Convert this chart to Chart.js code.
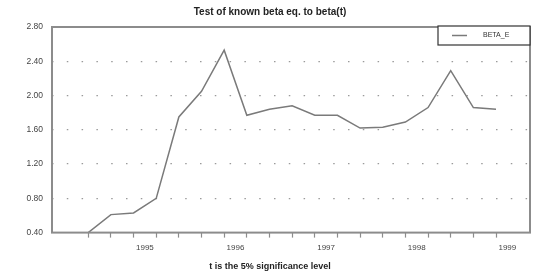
<!DOCTYPE html>
<html>
<head>
<meta charset="utf-8">
<script src="https://cdn.jsdelivr.net/npm/chart.js@4.4.0/dist/chart.umd.min.js"></script>
<style>
    html, body { margin: 0; padding: 0; background: #ffffff; }
    #wrap { width: 535px; height: 279px; }
</style>
</head>
<body>
<div id="wrap"><canvas id="beta-test"></canvas></div>
<script>
// quarterly observations, 1994Q4 .. 1999Q2
const obsLabels = ['1994Q4', '1995Q1', '1995Q2', '1995Q3', '1995Q4', '1996Q1', '1996Q2', '1996Q3', '1996Q4',
    '1997Q1', '1997Q2', '1997Q3', '1997Q4', '1998Q1', '1998Q2', '1998Q3', '1998Q4', '1999Q1', '1999Q2']
const betaValues = [0.40, 0.61, 0.63, 0.80, 1.75, 2.05, 2.53, 1.77, 1.84, 1.88,
    1.77, 1.77, 1.62, 1.63, 1.69, 1.86, 2.29, 1.86, 1.84]
const yearLabels = ['1995', '1996', '1997', '1998', '1999']
const yearPositions = [2.5, 6.5, 10.5, 14.5, 18.5]
const yTicks = [0.40, 0.80, 1.20, 1.60, 2.00, 2.40, 2.80]
const seriesLabel = 'BETA_E'

Chart.defaults.font.family = "'Liberation Sans', Arial, sans-serif"
Chart.defaults.font.size = 8
Chart.defaults.color = '#444444'

const frameColor = '#8c8c8c'

// box round the plot area plus the little legend box in the top right
const framePlugin = {
    id: 'frame',
    afterDraw(chart) {
        const { ctx, chartArea } = chart
        ctx.save()
        ctx.strokeStyle = frameColor
        ctx.lineWidth = 2
        ctx.strokeRect(chartArea.left, chartArea.top, chartArea.right - chartArea.left, chartArea.bottom - chartArea.top)

        const ds = chart.data.datasets[0]
        const bx = chartArea.right - 92, by = chartArea.top - 1, bw = 92, bh = 19
        ctx.fillStyle = '#ffffff'
        ctx.fillRect(bx, by, bw, bh)
        ctx.strokeStyle = '#333333'
        ctx.lineWidth = 1.2
        ctx.strokeRect(bx, by, bw, bh)
        ctx.strokeStyle = ds.borderColor
        ctx.lineWidth = 1.5
        ctx.beginPath()
        ctx.moveTo(bx + 14, by + bh / 2)
        ctx.lineTo(bx + 29, by + bh / 2)
        ctx.stroke()
        ctx.fillStyle = '#333333'
        ctx.font = "7px 'Liberation Sans', Arial, sans-serif"
        ctx.textBaseline = 'middle'
        ctx.fillText(ds.label, bx + 45, by + bh / 2)
        ctx.restore()
    }
}

new Chart(document.getElementById('beta-test'), {
    type: 'line',
    data: {
        datasets: [{
            label: seriesLabel,
            data: betaValues.map((v, i) => ({ x: i, y: v, q: obsLabels[i] })),
            borderColor: '#7a7a7a',
            borderWidth: 1.5,
            pointRadius: 0,
            tension: 0
        }]
    },
    options: {
        responsive: true,
        maintainAspectRatio: false,
        animation: false,
        layout: { padding: { left: 10, right: 5, top: 0, bottom: 0 } },
        plugins: {
            legend: { display: false },
            tooltip: { enabled: false },
            title: {
                display: true,
                text: 'Test of known beta eq. to beta(t)',
                color: '#222222',
                font: { size: 10, weight: 'bold' },
                padding: { top: 6, bottom: 9 }
            },
            subtitle: {
                display: true,
                position: 'bottom',
                text: 't is the 5% significance level',
                color: '#222222',
                font: { size: 9, weight: 'bold' },
                padding: { top: 4, bottom: 7 }
            }
        },
        scales: {
            x: {
                type: 'linear',
                min: -1.6,
                max: 19.5,
                afterBuildTicks(axis) {
                    const vals = obsLabels.map((q, i) => i).concat(yearPositions).sort((a, b) => a - b)
                    axis.ticks = vals.map(v => ({ value: v }))
                },
                ticks: {
                    autoSkip: false,
                    maxRotation: 0,
                    padding: 5,
                    callback(value) {
                        const k = yearPositions.indexOf(value)
                        return k >= 0 ? yearLabels[k] : ''
                    }
                },
                grid: {
                    drawOnChartArea: false,
                    tickLength: 5,
                    tickWidth: 1.2,
                    tickColor: ctx => Number.isInteger(ctx.tick.value) ? frameColor : 'rgba(0,0,0,0)'
                },
                border: { display: false }
            },
            y: {
                min: 0.4,
                max: 2.8,
                afterBuildTicks(axis) {
                    axis.ticks = yTicks.map(v => ({ value: v }))
                },
                afterFit(axis) {
                    axis.width = 42
                },
                ticks: {
                    padding: 9,
                    font: { size: 8.5 },
                    callback: value => value.toFixed(2)
                },
                grid: {
                    drawTicks: false,
                    lineWidth: 1.3,
                    color: ctx => (ctx.tick && (ctx.tick.value === 0.4 || ctx.tick.value === 2.8)) ? 'rgba(0,0,0,0)' : '#9a9a9a'
                },
                border: { display: false, dash: [1.5, 13.3] }
            }
        }
    },
    plugins: [framePlugin]
});
</script>
</body>
</html>
